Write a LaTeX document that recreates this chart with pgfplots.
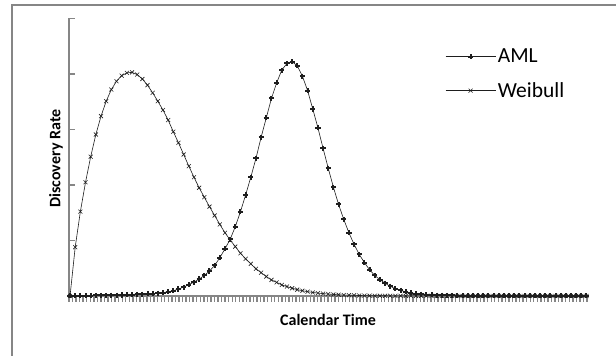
\documentclass[border=0pt]{standalone}
\usepackage{pgfplots}
\pgfplotsset{compat=1.18}
\usepackage{pgfplotstable}
\usepackage{fontspec}
\setmainfont{Carlito}
\definecolor{axgray}{RGB}{134,134,134}
\definecolor{curve}{RGB}{30,30,30}

\pgfplotstableread{
i aml weib
0 0.005 0
1 0.006 0.88
2 0.006 1.52
3 0.007 2.05
4 0.008 2.51
5 0.009 2.91
6 0.010 3.24
7 0.011 3.51
8 0.013 3.72
9 0.015 3.87
10 0.017 3.97
11 0.020 4.02
12 0.024 4.03
13 0.028 3.99
14 0.033 3.91
15 0.039 3.80
16 0.045 3.66
17 0.052 3.51
18 0.060 3.35
19 0.075 3.17
20 0.095 2.96
21 0.125 2.76
22 0.16 2.55
23 0.205 2.34
24 0.25 2.14
25 0.305 1.95
26 0.37 1.78
27 0.45 1.61
28 0.55 1.45
29 0.69 1.29
30 0.85 1.14
31 1.02 1.01
32 1.25 0.89
33 1.52 0.77
34 1.82 0.67
35 2.14 0.58
36 2.48 0.49
37 2.86 0.42
38 3.21 0.35
39 3.56 0.29
40 3.84 0.245
41 4.07 0.20
42 4.19 0.17
43 4.22 0.14
44 4.15 0.115
45 3.96 0.095
46 3.70 0.078
47 3.37 0.064
48 3.03 0.052
49 2.66 0.043
50 2.30 0.035
51 1.96 0.028
52 1.65 0.023
53 1.38 0.018
54 1.14 0.015
55 0.93 0.012
56 0.75 0.009
57 0.60 0.007
58 0.475 0.006
59 0.37 0.005
60 0.295 0.004
61 0.23 0.004
62 0.175 0.003
63 0.13 0.003
64 0.10 0.003
65 0.075 0.002
66 0.056 0.002
67 0.042 0.002
68 0.032 0.002
69 0.025 0.002
70 0.020 0.002
71 0.016 0.001
72 0.013 0.001
73 0.011 0.001
74 0.009 0.001
75 0.008 0.001
76 0.007 0.001
77 0.007 0.001
78 0.007 0.001
79 0.006 0.001
80 0.006 0.001
81 0.006 0.001
82 0.006 0.001
83 0.006 0.001
84 0.005 0.001
85 0.005 0.001
86 0.005 0.001
87 0.005 0.001
88 0.005 0.001
89 0.005 0.001
90 0.005 0.001
91 0.004 0.001
92 0.004 0.001
93 0.004 0.001
94 0.004 0.001
95 0.004 0.001
96 0.004 0.001
97 0.004 0.001
98 0.004 0.001
99 0.004 0.001
100 0.004 0.001
}\datatable

\begin{document}
\begin{tikzpicture}
\useasboundingbox (0pt,0pt) rectangle (616pt,356pt);
\fill[white] (0pt,0pt) rectangle (616pt,356pt);
\draw[axgray, line width=2pt] (12pt,0pt) -- (12pt,350.5pt) -- (616pt,350.5pt);
\begin{axis}[
  at={(69pt,60pt)}, anchor=south west,
  width=518pt, height=277.5pt, scale only axis,
  xmin=-0.2, xmax=100.1, ymin=0, ymax=5,
  axis lines=left,
  axis line style={axgray, line width=1.6pt, -},
  clip=false,
  xtick={-0.2,0.487,...,100.2},
  xticklabels={},
  ytick={0,1,2,3,4,5},
  yticklabels={},
  xtick align=outside, ytick align=inside,
  major tick length=6pt,
  xtick style={axgray, line width=1.4pt},
  ytick style={axgray, line width=1.5pt},
  xlabel={Calendar Time},
  ylabel={Discovery Rate},
  label style={font=\fontsize{16}{19}\selectfont\bfseries},
  xlabel style={at={(axis description cs:0.5,-0.0865)}, anchor=center},
  ylabel style={at={(axis description cs:-0.0251,0.495)}, anchor=center},
  legend image code/.code={\draw[#1, mark repeat=2, mark phase=2] plot coordinates {(0pt,0pt) (25pt,0pt) (50pt,0pt)};},
  legend style={at={(axis description cs:0.726,0.80)}, anchor=west, draw=none, fill=none,
    inner sep=0pt, row sep=14pt, font=\fontsize{21.5}{24}\selectfont},
  legend cell align=left,
]
\addplot[curve, line width=0.6pt, mark=+, mark size=2.6pt, mark options={line width=2pt, solid}] table[x=i, y=aml] {\datatable};
\addlegendentry{AML}
\addplot[curve, line width=0.6pt, mark=x, mark size=2.8pt, mark options={line width=0.6pt, solid}] table[x=i, y=weib] {\datatable};
\addlegendentry{Weibull}
\end{axis}
\end{tikzpicture}
\end{document}
